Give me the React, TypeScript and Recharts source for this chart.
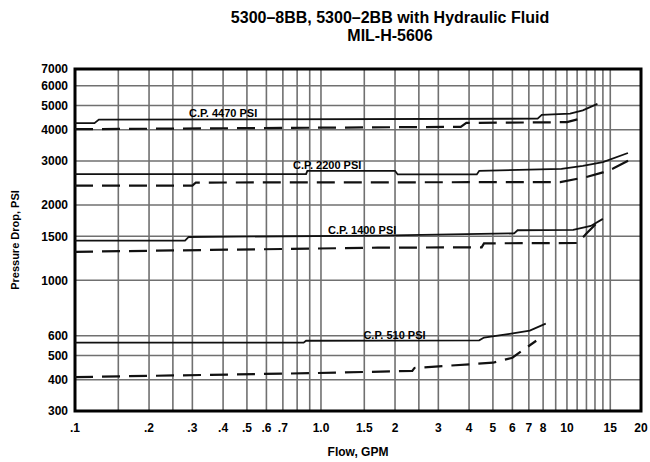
import {
  LineChart,
  Line,
  XAxis,
  YAxis,
  CartesianGrid,
  ReferenceArea,
  ReferenceDot,
} from "recharts";

const FONT = "'Liberation Sans', Arial, sans-serif";

// grid lines (log scale), only some of them get a label
const xTicks = [
  0.1, 0.15, 0.2, 0.25, 0.3, 0.4, 0.5, 0.6, 0.7, 0.8, 0.9, 1, 1.5, 2, 2.5, 3, 4,
  5, 6, 7, 8, 9, 10, 11, 12, 13, 14, 15, 20,
];
const xLabelValues = [0.1, 0.2, 0.3, 0.4, 0.5, 0.6, 0.7, 1, 1.5, 2, 3, 4, 5, 6, 7, 8, 10, 15, 20];
const xLabelTexts = [".1", ".2", ".3", ".4", ".5", ".6", ".7", "1.0", "1.5", "2", "3", "4", "5", "6", "7", "8", "10", "15", "20"];

const yTicks = [300, 400, 500, 600, 1000, 1500, 2000, 3000, 4000, 5000, 6000, 7000];

// C.P. 4470 PSI
const cp4470SolidFlow = [0.1, 0.12, 0.125, 7.6, 7.9, 10.3, 11.6, 13.3];
const cp4470SolidPsi = [4250, 4250, 4390, 4430, 4590, 4640, 4780, 5080];
const cp4470DashFlow = [0.1, 3.7, 3.9, 10, 11.2];
const cp4470DashPsi = [4020, 4110, 4260, 4290, 4420];

// C.P. 2200 PSI
const cp2200SolidFlow = [0.1, 0.87, 0.88, 2.0, 2.05, 4.3, 4.4, 9.5, 11.6, 14, 17.7];
const cp2200SolidPsi = [2660, 2660, 2740, 2740, 2650, 2650, 2740, 2790, 2870, 2970, 3230];
const cp2200DashFlow = [0.1, 0.3, 0.31, 9.4, 12, 14, 15.4, 18];
const cp2200DashPsi = [2390, 2390, 2460, 2470, 2590, 2700, 2800, 3030];

// C.P. 1400 PSI
const cp1400SolidFlow = [0.1, 0.28, 0.29, 1.7, 6.1, 6.3, 10.6, 12.5, 14];
const cp1400SolidPsi = [1440, 1440, 1490, 1510, 1540, 1585, 1590, 1650, 1760];
const cp1400DashFlow = [0.1, 1.7, 4.5, 4.6, 11.1, 12, 13.2];
const cp1400DashPsi = [1300, 1350, 1355, 1405, 1410, 1540, 1690];

// C.P. 510 PSI
const cp510SolidFlow = [0.1, 0.85, 0.87, 4.4, 4.6, 5.85, 7.06, 8.2];
const cp510SolidPsi = [563, 563, 573, 575, 590, 611, 629, 671];
const cp510DashFlow = [0.1, 0.9, 2.35, 2.4, 5.0, 6.0, 6.74, 7.5];
const cp510DashPsi = [410, 425, 434, 446, 468, 490, 532, 573];

const cpNames = ["C.P. 4470 PSI", "C.P. 2200 PSI", "C.P. 1400 PSI", "C.P. 510 PSI"];
const cpLabelFlow = [0.4, 1.06, 1.47, 1.99];
const cpLabelPsi = [4430, 2740, 1510, 573];

const pts = (flow: number[], psi: number[]) => flow.map((x, i) => ({ x, y: psi[i] }));

const solidSeries = [
  pts(cp4470SolidFlow, cp4470SolidPsi),
  pts(cp2200SolidFlow, cp2200SolidPsi),
  pts(cp1400SolidFlow, cp1400SolidPsi),
  pts(cp510SolidFlow, cp510SolidPsi),
];
const dashSeries = [
  pts(cp4470DashFlow, cp4470DashPsi),
  pts(cp2200DashFlow, cp2200DashPsi),
  pts(cp1400DashFlow, cp1400DashPsi),
  pts(cp510DashFlow, cp510DashPsi),
];

const fmtX = (v: number) => {
  const i = xLabelValues.indexOf(v);
  return i >= 0 ? xLabelTexts[i] : "";
};

const tickStyle = { fill: "#000", fontSize: 12, fontWeight: "bold", fontFamily: FONT };

const cpLabel = (text: string) => (props: any) => {
  const { x, y } = props.viewBox;
  return (
    <text
      x={x}
      y={y - 2}
      textAnchor="middle"
      fontSize={11}
      fontWeight="bold"
      fontFamily={FONT}
      fill="#000"
    >
      {text}
    </text>
  );
};

const yAxisLabel = (props: any) => {
  const { x, y, height } = props.viewBox;
  const cx = x + 15;
  const cy = y + height / 2;
  return (
    <text
      x={cx}
      y={cy}
      transform={`rotate(-90 ${cx} ${cy})`}
      textAnchor="middle"
      dominantBaseline="central"
      fontSize={11}
      fontWeight="bold"
      fontFamily={FONT}
      fill="#000"
    >
      Pressure Drop, PSI
    </text>
  );
};

export default function App() {
  return (
    <div
      style={{
        position: "absolute",
        left: 0,
        top: 0,
        width: 650,
        height: 462,
        background: "#fff",
      }}
    >
      <div
        style={{
          position: "absolute",
          left: 190,
          top: 9,
          width: 400,
          textAlign: "center",
          fontFamily: FONT,
          fontWeight: "bold",
          fontSize: 16,
          lineHeight: "18px",
          color: "#000",
        }}
      >
        <div>5300–8BB, 5300–2BB with Hydraulic Fluid</div>
        <div>MIL-H-5606</div>
      </div>
      <LineChart
        width={650}
        height={462}
        margin={{ top: 69, right: 9, bottom: 0, left: 0 }}
        style={{ position: "absolute", left: 0, top: 0 }}
      >
        <CartesianGrid stroke="#707070" strokeWidth={1.6} />
        <XAxis
          type="number"
          dataKey="x"
          scale="log"
          domain={[0.1, 20]}
          ticks={xTicks}
          interval={0}
          allowDataOverflow
          height={51}
          tickSize={0}
          tickMargin={12}
          axisLine={false}
          tickLine={false}
          tick={tickStyle}
          tickFormatter={fmtX}
          label={{
            value: "Flow, GPM",
            position: "insideBottom",
            offset: 6,
            fill: "#000",
            fontSize: 12,
            fontWeight: "bold",
            fontFamily: FONT,
          }}
        />
        <YAxis
          type="number"
          dataKey="y"
          scale="log"
          domain={[300, 7000]}
          ticks={yTicks}
          interval={0}
          allowDataOverflow
          width={75}
          tickSize={0}
          tickMargin={7}
          axisLine={false}
          tickLine={false}
          tick={tickStyle}
          label={yAxisLabel}
        />
        {solidSeries.map((d, i) => (
          <Line
            key={"s" + i}
            data={d}
            dataKey="y"
            type="linear"
            stroke="#111"
            strokeWidth={1.8}
            dot={false}
            isAnimationActive={false}
          />
        ))}
        {dashSeries.map((d, i) => (
          <Line
            key={"d" + i}
            data={d}
            dataKey="y"
            type="linear"
            stroke="#111"
            strokeWidth={2.2}
            strokeDasharray="18 9"
            dot={false}
            isAnimationActive={false}
          />
        ))}
        {cpNames.map((name, i) => (
          <ReferenceDot
            key={name}
            x={cpLabelFlow[i]}
            y={cpLabelPsi[i]}
            r={0}
            fill="none"
            stroke="none"
            label={cpLabel(name)}
          />
        ))}
        <ReferenceArea
          x1={0.1}
          x2={20}
          y1={300}
          y2={7000}
          fill="none"
          stroke="#000"
          strokeWidth={3}
          ifOverflow="visible"
        />
      </LineChart>
    </div>
  );
}
